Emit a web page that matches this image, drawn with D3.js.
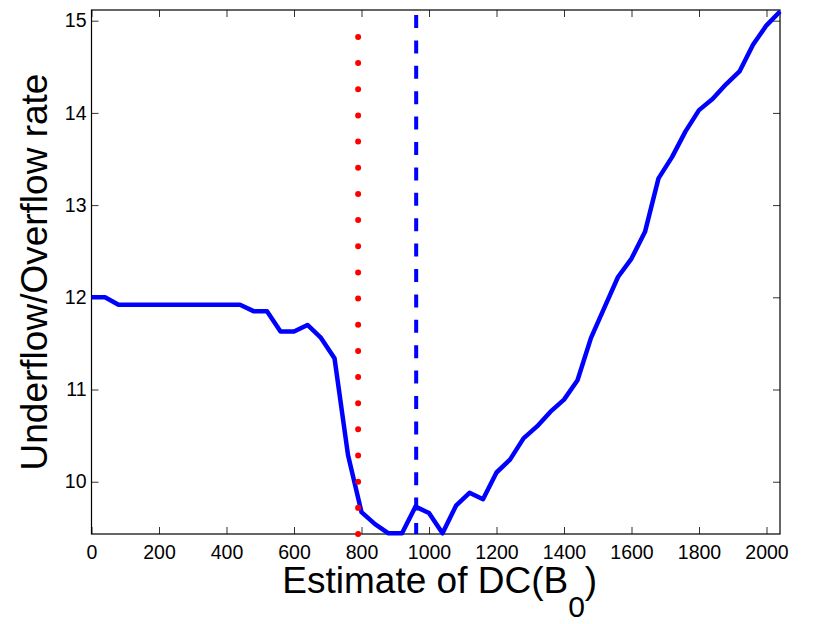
<!DOCTYPE html>
<html>
<head>
<meta charset="utf-8">
<script src="https://cdn.jsdelivr.net/npm/d3@7"></script>
<style>
  body { margin: 0; background: #fff; }
  text { font-family: "Liberation Sans", Arial, Helvetica, sans-serif; fill: #000; }
</style>
</head>
<body>
<div id="viz"></div>
<script>
// estimate of DC(B0) on the x axis
var estimates = [0, 40, 80, 120, 160, 200, 240, 280, 320, 360, 400, 440, 480, 520, 560, 600,
    640, 680, 720, 760, 800, 840, 880, 920, 960, 1000, 1040, 1080, 1120, 1160, 1200, 1240,
    1280, 1320, 1360, 1400, 1440, 1480, 1520, 1560, 1600, 1640, 1680, 1720, 1760, 1800,
    1840, 1880, 1920, 1960, 2000, 2040];
// underflow/overflow rate
var rates = [12.00, 12.00, 11.92, 11.92, 11.92, 11.92, 11.92, 11.92, 11.92, 11.92, 11.92, 11.92,
    11.85, 11.85, 11.63, 11.63, 11.70, 11.56, 11.34, 10.29, 9.67, 9.54, 9.44, 9.44, 9.73, 9.66,
    9.44, 9.74, 9.88, 9.81, 10.10, 10.24, 10.47, 10.60, 10.76, 10.89, 11.10, 11.56, 11.89, 12.22,
    12.42, 12.71, 13.29, 13.52, 13.80, 14.03, 14.15, 14.31, 14.45, 14.74, 14.95, 15.10];

var xTicks = [0, 200, 400, 600, 800, 1000, 1200, 1400, 1600, 1800, 2000];
var yTicks = [10, 11, 12, 13, 14, 15];
var xDomain = [0, 2040];
var yDomain = [9.433, 15.116];

// vertical reference lines
var redLine = {x: 790, y0: 9.433, y1: 14.83};
var blueLine = {x: 962, y0: 9.433, y1: 15.116};

var width = 830, height = 624;
var mLeft = 91.5, mRight = 780, mTop = 10, mBottom = 534;

var svg = d3.select("#viz").append("svg")
    .attr("width", width).attr("height", height);

svg.append("rect").attr("width", width).attr("height", height).attr("fill", "#fff");

var x = d3.scaleLinear().domain(xDomain).range([mLeft, mRight]);
var y = d3.scaleLinear().domain(yDomain).range([mBottom, mTop]);

// axes (box with ticks inside on all four sides)
var tickLen = 7;
var fmt = d3.format("d");
svg.append("g").attr("transform", "translate(0," + mBottom + ")")
    .call(d3.axisBottom(x).tickValues(xTicks).tickFormat(fmt).tickSizeInner(-tickLen).tickSizeOuter(0).tickPadding(11))
    .call(function (g) {
        g.select(".domain").remove();
        g.selectAll("text").attr("font-size", "19.5px").attr("dy", "0.72em")
            .style("font-family", '"Liberation Sans", Arial, sans-serif');
    });
svg.append("g").attr("transform", "translate(0," + mTop + ")")
    .call(d3.axisTop(x).tickValues(xTicks).tickSizeInner(-tickLen).tickSizeOuter(0).tickFormat(""))
    .call(function (g) { g.select(".domain").remove(); });
svg.append("g").attr("transform", "translate(" + mLeft + ",0)")
    .call(d3.axisLeft(y).tickValues(yTicks).tickFormat(fmt).tickSizeInner(-tickLen).tickSizeOuter(0).tickPadding(5))
    .call(function (g) {
        g.select(".domain").remove();
        g.selectAll("text").attr("font-size", "19.5px")
            .style("font-family", '"Liberation Sans", Arial, sans-serif');
    });
svg.append("g").attr("transform", "translate(" + mRight + ",0)")
    .call(d3.axisRight(y).tickValues(yTicks).tickSizeInner(-tickLen).tickSizeOuter(0).tickFormat(""))
    .call(function (g) { g.select(".domain").remove(); });

svg.selectAll(".tick line").attr("stroke", "#333").attr("stroke-width", 1);

svg.append("rect")
    .attr("x", mLeft).attr("y", mTop)
    .attr("width", mRight - mLeft).attr("height", mBottom - mTop)
    .attr("fill", "none").attr("stroke", "#000").attr("stroke-width", 1.2);

// main curve
var line = d3.line()
    .x(function (d, i) { return x(estimates[i]); })
    .y(function (d) { return y(d); });

svg.append("path")
    .datum(rates)
    .attr("d", line)
    .attr("fill", "none")
    .attr("stroke", "#0000ff")
    .attr("stroke-width", 4.5)
    .attr("stroke-linejoin", "round");

// blue dashed line
svg.append("line")
    .attr("x1", x(blueLine.x)).attr("x2", x(blueLine.x))
    .attr("y1", y(blueLine.y1)).attr("y2", y(blueLine.y0))
    .attr("stroke", "#0000ff")
    .attr("stroke-width", 4)
    .attr("stroke-dasharray", "13 12.4")
    .attr("stroke-dashoffset", 20.4);

// red dotted line
svg.append("line")
    .attr("x1", x(redLine.x)).attr("x2", x(redLine.x))
    .attr("y1", y(redLine.y0)).attr("y2", y(redLine.y1))
    .attr("stroke", "#ff0000")
    .attr("stroke-width", 6)
    .attr("stroke-linecap", "round")
    .attr("stroke-dasharray", "0 26.16");

// axis labels
var xl = svg.append("text")
    .attr("x", (mLeft + mRight) / 2 + 4)
    .attr("y", 593)
    .attr("text-anchor", "middle")
    .attr("font-size", "37px");
xl.append("tspan").text("Estimate of DC(B");
xl.append("tspan").attr("font-size", "30px").attr("dy", 24).text("0");
xl.append("tspan").attr("dy", -24).text(")");

svg.append("text")
    .attr("transform", "translate(47," + ((mTop + mBottom) / 2) + ") rotate(-90)")
    .attr("text-anchor", "middle")
    .attr("font-size", "37px")
    .text("Underflow/Overflow rate");
</script>
</body>
</html>
